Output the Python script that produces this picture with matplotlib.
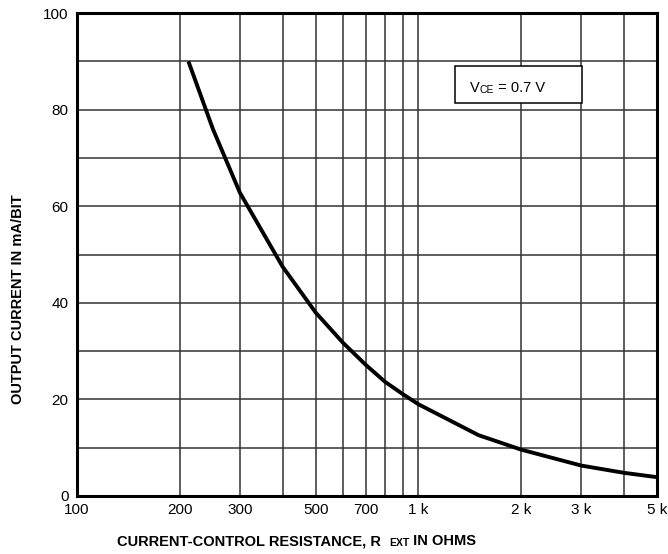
import matplotlib.pyplot as plt
from matplotlib.patches import Rectangle

plt.rcParams['font.family'] = ['Liberation Sans', 'DejaVu Sans']

# curve
r_ext = [212, 250, 300, 400, 500, 600, 700, 800, 900, 1000, 1500, 2000, 3000, 4000, 5000]
i_out = [90, 76, 62.8, 47.5, 38.0, 31.8, 27.2, 23.6, 21.1, 19.0, 12.6, 9.6, 6.3, 4.8, 3.9]

x_grid = [200, 300, 400, 500, 600, 700, 800, 900, 1000, 2000, 3000, 4000]
x_ticks = [100, 200, 300, 500, 700, 1000, 2000, 3000, 5000]
x_labels = ['100', '200', '300', '500', '700', '1 k', '2 k', '3 k', '5 k']
y_ticks = [0, 20, 40, 60, 80, 100]
y_grid = [10, 20, 30, 40, 50, 60, 70, 80, 90]

fig = plt.figure(figsize=(6.68, 5.54), dpi=100)
ax = fig.add_axes([0.1153, 0.1047, 0.8682, 0.8718])

ax.set_xscale('log')
ax.set_xlim(100, 5000)
ax.set_ylim(0, 100)

# grid
for xv in x_grid:
    ax.axvline(xv, color='#333333', lw=1.1, zorder=1)
for yv in y_grid:
    ax.axhline(yv, color='#333333', lw=1.1, zorder=1)

ax.plot(r_ext, i_out, color='black', lw=2.8, zorder=3, solid_capstyle='butt')

ax.set_xticks(x_ticks)
ax.set_xticklabels(x_labels)
ax.minorticks_off()
ax.set_yticks(y_ticks)
ax.tick_params(length=0, labelsize=11)
ax.tick_params(axis='x', pad=5)
ax.tick_params(axis='y', pad=6)
for s in ax.spines.values():
    s.set_linewidth(2.2)

# V_CE box
ax.add_patch(Rectangle((0.652, 0.814), 0.219, 0.076, transform=ax.transAxes,
                       facecolor='white', edgecolor='black', lw=1.1, zorder=4))
t1 = ax.text(0.677, 0.836, 'V', transform=ax.transAxes, fontsize=10.5, zorder=5)
t2 = ax.annotate('CE', xy=(1, 0), xycoords=t1, va='bottom', fontsize=7.5, zorder=5)
ax.annotate(' = 0.7 V', xy=(1, 0), xycoords=t2, va='bottom', fontsize=10.5, zorder=5)

# y label
fig.text(0.027, 0.46, 'OUTPUT CURRENT IN mA/BIT', rotation=90, ha='center', va='center',
         fontsize=10.5, fontweight='bold')

# x label with small-caps EXT
l1 = fig.text(0.175, 0.0155, 'CURRENT-CONTROL RESISTANCE, R  ', fontsize=10.5, fontweight='bold')
l2 = plt.annotate('EXT', xy=(1, 0), xycoords=l1, va='bottom', fontsize=7.5, fontweight='bold',
                  annotation_clip=False)
plt.annotate(' IN OHMS', xy=(1, 0), xycoords=l2, va='bottom', fontsize=10.5, fontweight='bold',
             annotation_clip=False)

fig.savefig('out.png', dpi=100)
